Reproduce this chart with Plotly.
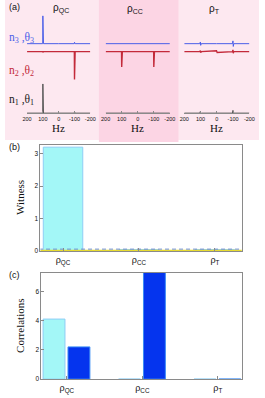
import plotly.graph_objects as go

W, H = 265, 398

# ---------------- data ----------------
freq = [200, 104, 101, 100, 99, 96, 2, 0, -2, -96, -99, -100, -101, -104, -200]

spec_qc_n3 = [0, 0, 0, 1.00, 0, 0, 0, 0, 0, 0, 0, 0.05, 0, 0, 0]
spec_qc_n2 = [0, 0, 0, -0.03, 0, 0, 0, 0, 0, 0, 0, -1.00, 0, 0, 0]
spec_qc_n1 = [0, 0, 0, 1.05, 0, 0, 0, 0, 0, 0, 0, 0.04, 0, 0, 0]
spec_cc_n3 = [0, 0, 0, 0, 0, 0, 0, 0, 0, 0, 0, 0, 0, 0, 0]
spec_cc_n2 = [0, 0, 0, -0.55, 0, 0, 0, 0, 0, 0, 0, -0.55, 0, 0, 0]
spec_cc_n1 = [0, 0, 0, 0.02, 0, 0, 0, 0, 0, 0, 0, 0.02, 0, 0, 0]
spec_t_n3 = [0, 0, 0.06, 0, -0.06, 0, 0, 0, 0, 0, 0.10, 0, -0.10, 0, 0]
spec_t_n2 = [0, 0, 0.04, 0, -0.04, 0, 0.03, 0, -0.03, 0, 0.06, 0, -0.06, 0, 0]
spec_t_n1 = [0, 0, 0.06, 0, -0.06, 0, 0, 0, 0, 0, 0.10, 0, -0.10, 0, 0]

hz_ticks = [200, 100, 0, -100, -200]
states = ["ρ<sub>QC</sub>", "ρ<sub>CC</sub>", "ρ<sub>T</sub>"]
state_pos = [1, 2, 3]

witness = [3.2, 0.05, 0.05]
witness_threshold = 0.06

corr_a = [4.1, 0.0, 0.0]
corr_b = [2.2, 7.35, 0.0]

# ---------------- styling ----------------
def px_x(x):
    return x / W

def px_y(y):
    return 1 - y / H

scale = 28.0            # pixels per unit intensity
offset_n1, offset_n2, offset_n3 = 0.0, 62.0, 70.0
col_n3, col_n2, col_n1 = "#4a5ee8", "#c32a3a", "#555555"

fig = go.Figure()

panels = [
    ("x", "y", [spec_qc_n1, spec_qc_n2, spec_qc_n3], (23, 89)),
    ("x2", "y2", [spec_cc_n1, spec_cc_n2, spec_cc_n3], (105, 172)),
    ("x3", "y3", [spec_t_n1, spec_t_n2, spec_t_n3], (187, 255)),
]
for xa, ya, specs, _ in panels:
    for s, off, col, lw in zip(specs, [offset_n1, offset_n2, offset_n3],
                               [col_n1, col_n2, col_n3], [1.0, 1.4, 1.0]):
        fig.add_trace(go.Scatter(x=freq, y=[off + scale * v for v in s], mode="lines",
                                 line=dict(color=col, width=lw), xaxis=xa, yaxis=ya,
                                 showlegend=False, hoverinfo="skip"))

# panel (b)
fig.add_trace(go.Scatter(x=[0.5, 3.6], y=[0, 0], mode="lines",
                         line=dict(color="#e8dc30", width=2.5), xaxis="x4", yaxis="y4",
                         showlegend=False))
fig.add_trace(go.Bar(x=state_pos, y=witness, width=0.52, marker=dict(color="#a3f7f7",
                     line=dict(color="#8ecdf5", width=1)), xaxis="x4", yaxis="y4",
                     showlegend=False))
fig.add_trace(go.Scatter(x=[0.5, 3.6], y=[witness_threshold] * 2, mode="lines",
                         line=dict(color="#6f8fd0", width=1, dash="4px,3px"),
                         xaxis="x4", yaxis="y4", showlegend=False))

# panel (c)
fig.add_trace(go.Bar(x=state_pos, y=corr_a, width=0.29, offset=-0.315,
                     marker=dict(color="#a3f7f7", line=dict(color="#8ecdf5", width=1)),
                     xaxis="x5", yaxis="y5", showlegend=False))
fig.add_trace(go.Bar(x=state_pos, y=corr_b, width=0.29, offset=0.015,
                     marker=dict(color="#0534ee", line=dict(color="#3a8cf5", width=1)),
                     xaxis="x5", yaxis="y5", showlegend=False))

axis_col = "#8a8a8a"
sans = "Liberation Sans, Arial"
serif = "Liberation Serif, Times New Roman"
tickfont = dict(family=sans, size=6.5, color="#111")

layout = dict(
    width=W, height=H, margin=dict(l=0, r=0, t=0, b=0),
    paper_bgcolor="white", plot_bgcolor="rgba(0,0,0,0)",
    barmode="overlay",
)

for i, (xa, ya, _, (x0, x1)) in enumerate(panels):
    key = "" if i == 0 else str(i + 1)
    layout["xaxis" + key] = dict(
        domain=[px_x(x0), px_x(x1)], range=[200, -200], tickvals=hz_ticks,
        ticktext=[str(t) for t in hz_ticks], tickangle=0,
        ticks="inside", ticklen=2, tickcolor=axis_col, showline=True, linecolor=axis_col,
        linewidth=1, showgrid=False, zeroline=False,
        tickfont=dict(family=sans, size=5.5, color="#111"),
        anchor="y" + key,
    )
    layout["yaxis" + key] = dict(
        domain=[px_y(114), px_y(12)], range=[0, 102], visible=False, anchor="x" + key,
        fixedrange=True,
    )

box = dict(showline=True, mirror=True, linecolor=axis_col, linewidth=1, showgrid=False,
           zeroline=False, ticks="inside", ticklen=3, tickcolor=axis_col, tickfont=tickfont)

layout["xaxis4"] = dict(box, domain=[px_x(37), px_x(247)], range=[0.703, 3.353],
                        tickvals=state_pos, ticktext=states, anchor="y4",
                        tickfont=dict(family=sans, size=9, color="#111"))
layout["yaxis4"] = dict(box, domain=[px_y(253), px_y(146)], range=[0, 3.27],
                        tickvals=[0, 1, 2, 3], anchor="x4")
layout["xaxis5"] = dict(box, domain=[px_x(38), px_x(247)], range=[0.663, 3.317],
                        tickvals=state_pos, ticktext=states, anchor="y5",
                        tickfont=dict(family=sans, size=9, color="#111"))
layout["yaxis5"] = dict(box, domain=[px_y(382), px_y(275)], range=[0, 7.25],
                        tickvals=[0, 2, 4, 6], anchor="x5")

layout["shapes"] = [
    dict(type="rect", xref="paper", yref="paper", x0=0, x1=1, y0=px_y(141), y1=1,
         fillcolor="#fde8f0", line=dict(width=0), layer="below"),
    dict(type="rect", xref="paper", yref="paper", x0=px_x(98), x1=px_x(181), y0=px_y(143), y1=1,
         fillcolor="#fcd5e4", line=dict(width=0), layer="below"),
]

ann = []
def label(text, x, y, size, color="#111", family=sans, xanchor="center", angle=0):
    ann.append(dict(text=text, x=px_x(x), y=px_y(y), xref="paper", yref="paper",
                    showarrow=False, xanchor=xanchor, yanchor="middle", textangle=angle,
                    font=dict(family=family, size=size, color=color)))

label("(a)", 2, 7, 9, xanchor="left")
label("(b)", 2, 148, 9, xanchor="left")
label("(c)", 2, 277, 9, xanchor="left")
label("ρ<sub>QC</sub>", 58, 9, 10)
label("ρ<sub>CC</sub>", 136, 9, 10)
label("ρ<sub>T</sub>", 219, 9, 10)
label("n<sub>3</sub> ,θ<sub>3</sub>", 2, 38, 11.5, color=col_n3, family=serif, xanchor="left")
label("n<sub>2</sub> ,θ<sub>2</sub>", 2, 72, 11.5, color=col_n2, family=serif, xanchor="left")
label("n<sub>1</sub> ,θ<sub>1</sub>", 2, 101, 11.5, color="#222", family=serif, xanchor="left")
label("Hz", 56, 129, 11, family=serif)
label("Hz", 138, 129, 11, family=serif)
label("Hz", 221, 129, 11, family=serif)
label("Witness", 15, 199, 11, family=serif, angle=-90)
label("Correlations", 15, 328, 11, family=serif, angle=-90)
layout["annotations"] = ann

fig.update_layout(**layout)
fig.write_html("out.html", config={"displayModeBar": False},
               post_script="document.body.style.margin='0';document.body.style.overflow='hidden';")
